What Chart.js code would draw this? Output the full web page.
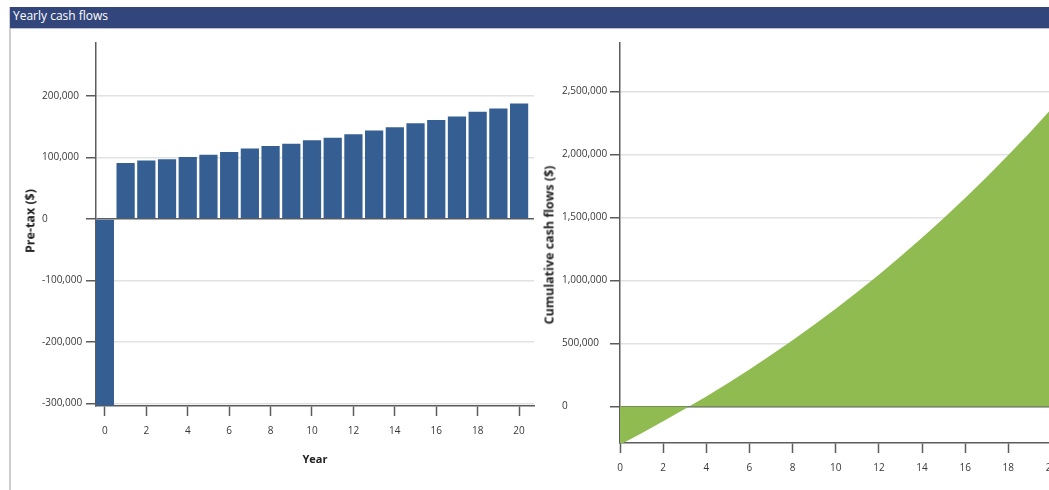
<!DOCTYPE html>
<html>
<head>
<meta charset="utf-8">
<title>Yearly cash flows</title>
<script src="https://cdn.jsdelivr.net/npm/chart.js@4.4.1/dist/chart.umd.min.js"></script>
<style>
  html, body { margin: 0; padding: 0; background: #fff; width: 1049px; height: 490px; overflow: hidden; position: relative; }
  .edge { position: absolute; left: 9px; top: 7px; width: 2px; height: 483px; background: #cdcdcd; }
  .banner { position: absolute; left: 10px; top: 7px; width: 1039px; height: 22px; background: #33467c;
            border-bottom: 1px solid #b8c1d6; box-sizing: border-box; }
  .banner span { position: absolute; left: 3px; top: 0; line-height: 21px; font: 12px "Open Sans", sans-serif; color: #fff; }
  .panel { position: absolute; top: 30px; height: 460px; }
  .ytitle { position: absolute; font: bold 12.5px "Open Sans", sans-serif; color: #222; white-space: nowrap;
            transform: translate(-50%, -50%) rotate(-90deg); }
</style>
</head>
<body>
<div class="edge"></div>
<div class="banner"><span>Yearly cash flows</span></div>
<div class="panel" style="left:10px;width:530px;"><canvas id="yearly" width="530" height="460"></canvas></div>
<div class="panel" style="left:540px;width:540px;"><canvas id="cumulative" width="540" height="460"></canvas></div>
<div class="ytitle" style="left:30px;top:221px;">Pre-tax ($)</div>
<div class="ytitle" style="left:549px;top:245px;">Cumulative cash flows ($)</div>

<script>
// Project years and cash flows ($)
const years = [0, 1, 2, 3, 4, 5, 6, 7, 8, 9, 10, 11, 12, 13, 14, 15, 16, 17, 18, 19, 20];
const preTax = [-303000, 91100, 94900, 97000, 100700, 104500, 108800, 114700, 118400, 122200, 128100,
                131800, 137700, 143600, 149000, 155400, 160800, 166700, 174200, 179500, 187600];
const cumulative = [-303000, -211900, -117000, -20000, 80700, 185200, 294000, 408700, 527100, 649300, 777400,
                    909200, 1046900, 1190500, 1339500, 1494900, 1655700, 1822400, 1996600, 2176100, 2363700];

// Axis tick values
const yearTicks = [0, 2, 4, 6, 8, 10, 12, 14, 16, 18, 20];
const preTaxTicks = [-300000, -200000, -100000, 0, 100000, 200000];
const cumulativeTicks = [0, 500000, 1000000, 1500000, 2000000, 2500000];

const AXIS = '#5c5c5c';
const GRID = '#e2e2e2';
const tickFont = { family: '"Open Sans", sans-serif', size: 10 };
const fmt = v => Number(v).toLocaleString('en-US');
const fixedTicks = list => scale => { scale.ticks = list.map(v => ({ value: v })); };

function yAxis(min, max, ticks, width) {
  return {
    type: 'linear', min, max,
    afterBuildTicks: fixedTicks(ticks),
    afterFit: s => { s.width = width; },
    border: { color: AXIS, width: 1.5 },
    grid: {
      color: c => (c.tick && c.tick.value === 0) ? AXIS : GRID,
      lineWidth: 1.5, tickColor: AXIS, tickLength: 10, tickWidth: 1.5
    },
    ticks: { font: tickFont, color: '#383838', padding: 4, crossAlign: 'far', callback: fmt }
  };
}

function xAxis(min, max, height, title) {
  return {
    type: 'linear', min, max,
    offset: false,
    afterBuildTicks: fixedTicks(yearTicks),
    afterFit: s => { s.height = height; },
    border: { color: AXIS, width: 1.5 },
    grid: { offset: false, drawOnChartArea: false, tickColor: AXIS, tickLength: 10, tickWidth: 1.5 },
    ticks: { font: tickFont, color: '#383838', padding: 9, maxRotation: 0, callback: v => String(v) },
    title: title ? {
      display: true, text: title, color: '#222',
      font: { family: '"Open Sans", sans-serif', size: 11, weight: 'bold' },
      padding: { top: 0, bottom: 24 }
    } : { display: false }
  };
}

const common = {
  responsive: false,
  animation: false,
  plugins: { legend: { display: false }, tooltip: { enabled: false } }
};

// Pre-tax cash flow per year
new Chart(document.getElementById('yearly'), {
  type: 'bar',
  data: {
    datasets: [{
      data: years.map((yr, i) => ({ x: yr, y: preTax[i] })),
      backgroundColor: '#355f93',
      borderWidth: 0,
      barPercentage: 0.88,
      categoryPercentage: 1
    }]
  },
  options: {
    ...common,
    layout: { padding: { left: 32, top: 13, right: 6, bottom: 0 } },
    scales: {
      x: xAxis(-0.43, 20.72, 84, 'Year'),
      y: yAxis(-304000, 286000, preTaxTicks, 54)
    }
  }
});

// Running total of cash flows
new Chart(document.getElementById('cumulative'), {
  type: 'line',
  data: {
    datasets: [{
      data: years.map((yr, i) => ({ x: yr, y: cumulative[i] })),
      fill: 'origin',
      backgroundColor: '#8fbb50',
      borderWidth: 0,
      pointRadius: 0,
      tension: 0
    }]
  },
  options: {
    ...common,
    layout: { padding: { left: 22, top: 13, right: 13, bottom: 0 } },
    scales: {
      x: xAxis(0, 20.72, 47, null),
      y: yAxis(-289000, 2886000, cumulativeTicks, 58)
    }
  }
});
</script>
</body>
</html>
